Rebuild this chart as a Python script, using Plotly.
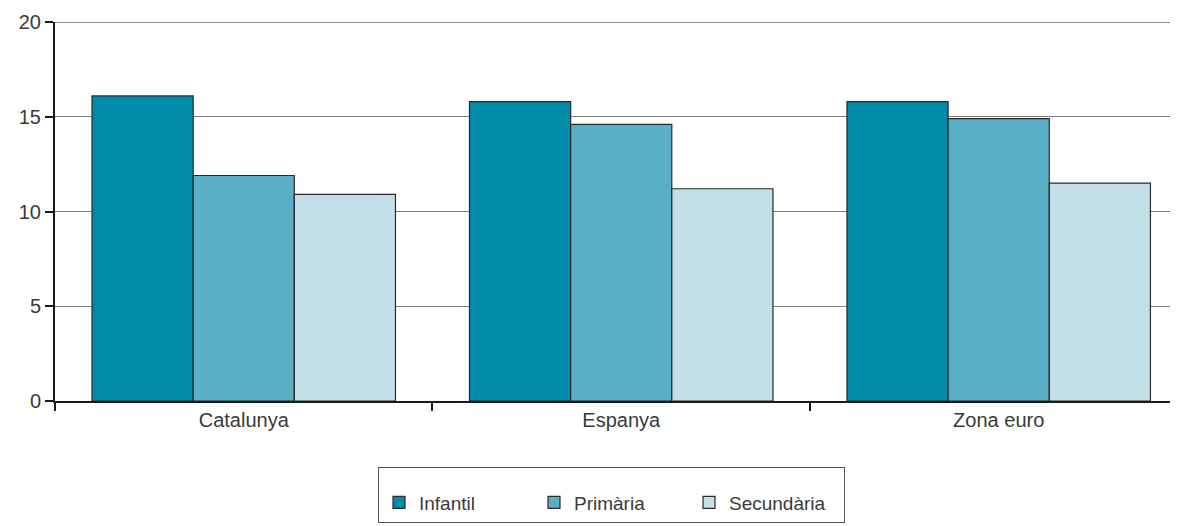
import plotly.graph_objects as go

categories = ["Catalunya", "Espanya", "Zona euro"]
series_names = ["Infantil", "Primària", "Secundària"]
infantil = [16.1, 15.8, 15.8]
primaria = [11.9, 14.6, 14.9]
secundaria = [10.9, 11.2, 11.5]
y_ticks = [0, 5, 10, 15, 20]

colors = ["#008BA8", "#5AAFC7", "#C3DFE7"]
values = [infantil, primaria, secundaria]

fig = go.Figure()
for name, vals, col in zip(series_names, values, colors):
    fig.add_trace(go.Bar(
        x=categories, y=vals, name=name,
        marker=dict(color=col, line=dict(color="#2a2a2a", width=1.2)),
    ))

# page body has an 8px margin; figure sized so plot spans to window edge
W, H = 1170, 518
L, T, B = 47, 14, 125
plot_w = W - L
plot_h = H - T - B

font_family = "Liberation Sans, Arial, sans-serif"
fig.update_layout(
    width=W, height=H,
    margin=dict(l=L, r=0, t=T, b=B, autoexpand=False),
    paper_bgcolor="white", plot_bgcolor="white",
    barmode="group", bargap=0.196, bargroupgap=0,
    font=dict(family=font_family, size=20, color="#3a3a3a"),
    showlegend=True,
    legend=dict(
        orientation="h", x=(370 - L) / plot_w, xanchor="left",
        y=(plot_h - (459 - T)) / plot_h, yanchor="top",
        bordercolor="#555555", borderwidth=1, bgcolor="white",
        font=dict(size=19, color="#3a3a3a"),
        title=dict(text="&nbsp;", font=dict(size=12), side="top"),
        entrywidth=110, entrywidthmode="pixels",
    ),
    xaxis=dict(
        range=[-0.5, 2.475], showgrid=False, showline=True, linecolor="#1a1a1a", linewidth=2,
        ticks="outside", tickson="boundaries", ticklen=8, tickwidth=2, tickcolor="#1a1a1a",
        tickfont=dict(size=20, color="#3a3a3a"), fixedrange=True, automargin=False,
    ),
    yaxis=dict(
        range=[0, 20], tickvals=y_ticks, showgrid=True, gridcolor="#808080", gridwidth=1,
        showline=True, linecolor="#1a1a1a", linewidth=2, zeroline=False,
        ticks="outside", ticklen=8, tickwidth=2, tickcolor="#1a1a1a",
        tickfont=dict(size=20, color="#3a3a3a"), fixedrange=True, automargin=False,
    ),
    shapes=[dict(type="line", xref="paper", x0=0, x1=1, yref="y", y0=20, y1=20,
                 line=dict(color="#222222", width=1), layer="below")],
)

fig.write_html("out.html")
